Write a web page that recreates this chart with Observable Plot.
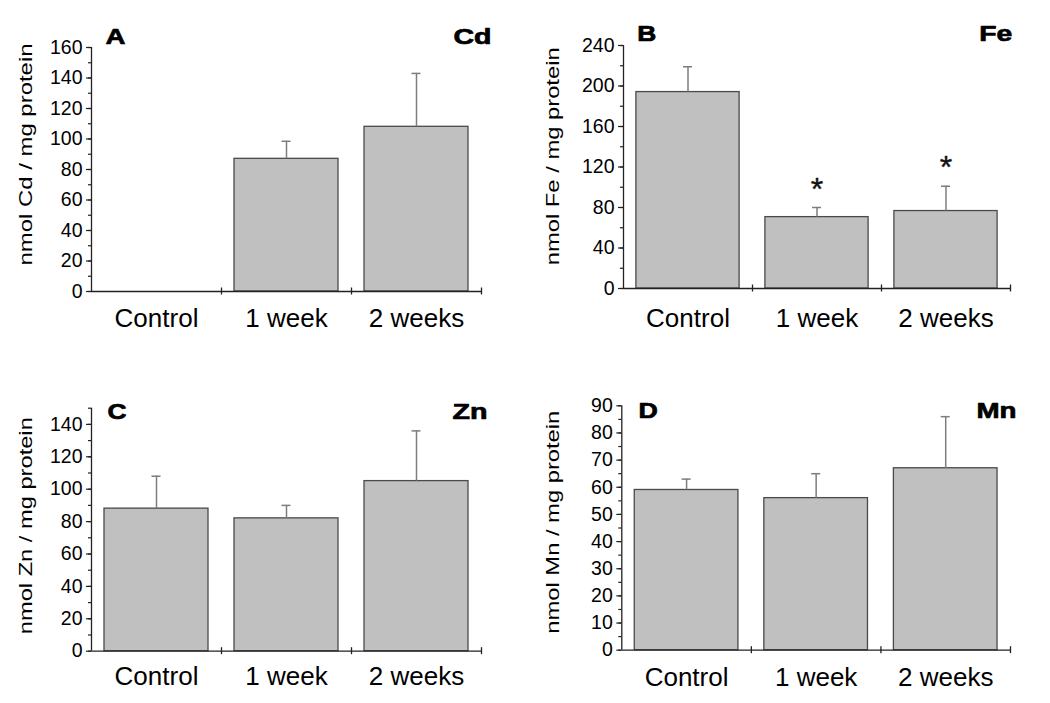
<!DOCTYPE html>
<html>
<head>
<meta charset="utf-8">
<script src="https://cdn.jsdelivr.net/npm/d3@7"></script>
<script src="https://cdn.jsdelivr.net/npm/@observablehq/plot@0.6"></script>
<style>
  body { margin: 0; background: #fff; }
  #fig { position: relative; width: 1050px; height: 703px; font-family: "Liberation Sans", Arial, sans-serif; }
  #fig svg { position: absolute; }
</style>
</head>
<body>
<div id="fig"></div>
<script>
// ---- data ----
const categories = ["Control", "1 week", "2 weeks"];

const cdMean  = [0, 87, 108];
const cdUpper = [null, 98.5, 143];

const feMean   = [194, 70.5, 76.5];
const feUpper  = [219, 80, 101];
const feSignif = ["", "*", "*"];

const znMean  = [88, 82, 105];
const znUpper = [108, 90, 136];

const mnMean  = [59, 56, 67];
const mnUpper = [63, 65, 86];

const panelLetters  = ["A", "B", "C", "D"];
const panelElements = ["Cd", "Fe", "Zn", "Mn"];
const yLabels = ["nmol Cd / mg protein", "nmol Fe / mg protein", "nmol Zn / mg protein", "nmol Mn / mg protein"];
const yMax   = [160, 240, 150, 90];
const yMajor = [20, 40, 20, 10];
const yMinor = [10, 20, 10, 5];
const means  = [cdMean, feMean, znMean, mnMean];
const uppers = [cdUpper, feUpper, znUpper, mnUpper];
const signifs = [null, feSignif, null, null];

// ---- layout / style ----
const FONT = '"Liberation Sans", Arial, Helvetica, sans-serif';
const layouts = [
  {left: 0,   top: 0,   width: 525, height: 340, mt: 47,   mb: 49,   ml: 91,   mr: 44, xPad: 17.5,
   labelDx: -59.3, labelDy: -15,  labelLen: 222, letterDx: 14,   letterDy: -4,   elemDx: 10,  elemDy: -4,   letterLen: 20,   elemLen: 38},
  {left: 525, top: 0,   width: 525, height: 340, mt: 45,   mb: 52,   ml: 98,   mr: 40, xPad: 20.5,
   labelDx: -64.5, labelDy: -10.7, labelLen: 218, letterDx: 13.7, letterDy: -4.5, elemDx: 1.7, elemDy: -4.5, letterLen: 19,   elemLen: 33},
  {left: 0,   top: 360, width: 525, height: 343, mt: 47.7, mb: 52.3, ml: 91,   mr: 44, xPad: 15.8,
   labelDx: -59.3, labelDy: -4,   labelLen: 217, letterDx: 16,   letterDy: 10.3, elemDx: 6,   elemDy: 10.3, letterLen: 19,   elemLen: 35},
  {left: 525, top: 360, width: 525, height: 343, mt: 45.3, mb: 53.3, ml: 96.3, mr: 40, xPad: 17.5,
   labelDx: -62.8, labelDy: -5.8, labelLen: 223, letterDx: 16.7, letterDy: 11.7, elemDx: 6,   elemDy: 11.7, letterLen: 19.3, elemLen: 40}
];

const fig = document.getElementById("fig");

for (let p = 0; p < 4; p++) {
  const L = layouts[p];
  const rows = categories.map((c, i) => ({
    i, category: c, mean: means[p][i], upper: uppers[p][i],
    signif: signifs[p] ? signifs[p][i] : ""
  }));
  const withErr = rows.filter(d => d.upper != null);
  const withSig = rows.filter(d => d.signif);

  const svg = Plot.plot({
    width: L.width,
    height: L.height,
    marginTop: L.mt, marginBottom: L.mb, marginLeft: L.ml, marginRight: L.mr,
    style: {fontFamily: FONT, background: "white", color: "#000", overflow: "visible"},
    x: {domain: [0, 3], label: null},
    y: {domain: [0, yMax[p]], label: null},
    marks: [
      // bars
      Plot.rect(rows.filter(d => d.mean > 0), {
        x1: d => d.i + 0.1, x2: d => d.i + 0.9, y1: 0, y2: "mean",
        fill: "#c0c0c0", stroke: "#4a4a4a", strokeWidth: 1.3
      }),
      // error bars (upper only)
      Plot.ruleX(withErr, {x: d => d.i + 0.5, y1: "mean", y2: "upper", stroke: "#7d7d7d", strokeWidth: 1.5}),
      Plot.ruleY(withErr, {y: "upper", x1: d => d.i + 0.5, x2: d => d.i + 0.5,
        insetLeft: -4.5, insetRight: -4.5, stroke: "#7d7d7d", strokeWidth: 1.5}),
      // significance marks
      Plot.text(withSig, {x: d => d.i + 0.5, y: "upper", text: "signif", lineAnchor: "bottom",
        dy: -8, fontSize: 32, fill: "#111", stroke: "#111", strokeWidth: 0.4}),
      // y axis (major + minor ticks)
      Plot.axisY({ticks: d3.range(0, yMax[p] + 0.001, yMajor[p]), tickSize: 5, tickPadding: 4,
        fontSize: 19.5, label: null, stroke: "#222", strokeWidth: 1.2}),
      Plot.axisY({ticks: d3.range(0, yMax[p] + 0.001, yMinor[p]), tickSize: 3, tickFormat: () => "",
        label: null, stroke: "#222", strokeWidth: 1.2}),
      Plot.ruleX([0], {stroke: "#222", strokeWidth: 1.3}),
      // x axis line, group boundary ticks, category labels
      Plot.ruleY([0], {stroke: "#222", strokeWidth: 1.3}),
      Plot.ruleX([1, 2, 3], {x: d => d, y1: 0, y2: 0, insetTop: -3.5, insetBottom: -3.5,
        stroke: "#222", strokeWidth: 1.3}),
      Plot.axisX({ticks: [0.5, 1.5, 2.5], tickFormat: v => categories[Math.floor(v)],
        tickSize: 0, tickPadding: L.xPad, fontSize: 26, label: null}),
      // y axis title
      Plot.text([yLabels[p]], {frameAnchor: "left", rotate: -90, textAnchor: "middle",
        lineAnchor: "bottom", dx: L.labelDx, dy: L.labelDy, fontSize: 18, fill: "#000"}),
      // panel letter and element
      Plot.text([panelLetters[p]], {frameAnchor: "top-left", textAnchor: "start",
        lineAnchor: "bottom", dx: L.letterDx, dy: L.letterDy, fontSize: 21.5, fontWeight: "bold",
        fill: "#000", stroke: "#000", strokeWidth: 0.7}),
      Plot.text([panelElements[p]], {frameAnchor: "top-right", textAnchor: "end",
        lineAnchor: "bottom", dx: L.elemDx, dy: L.elemDy, fontSize: 22, fontWeight: "bold",
        fill: "#000", stroke: "#000", strokeWidth: 0.7})
    ]
  });

  // stretch the wide-set titles to the reference's text lengths
  const stretch = {};
  stretch[yLabels[p]] = L.labelLen;
  stretch[panelLetters[p]] = L.letterLen;
  stretch[panelElements[p]] = L.elemLen;
  d3.select(svg).selectAll("text").each(function () {
    const t = this.textContent;
    if (Object.prototype.hasOwnProperty.call(stretch, t) && this.childElementCount === 0) {
      this.setAttribute("textLength", stretch[t]);
      this.setAttribute("lengthAdjust", "spacingAndGlyphs");
    }
  });

  svg.style.left = L.left + "px";
  svg.style.top = L.top + "px";
  fig.appendChild(svg);
}
</script>
</body>
</html>
